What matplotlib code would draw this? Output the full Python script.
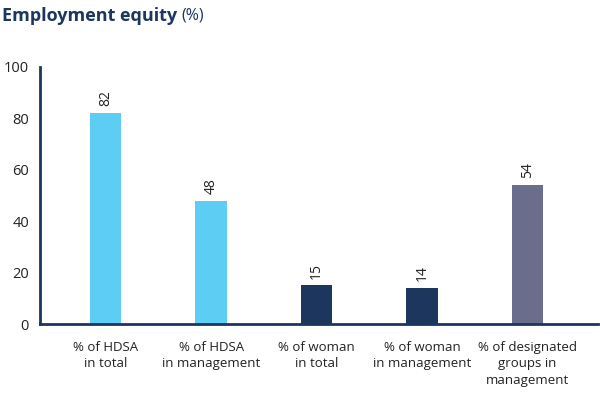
import matplotlib
matplotlib.use("Agg")
import matplotlib.pyplot as plt

# data
categories = [
    "% of HDSA\nin total",
    "% of HDSA\nin management",
    "% of woman\nin total",
    "% of woman\nin management",
    "% of designated\ngroups in\nmanagement",
]
values = [82, 48, 15, 14, 54]
colors = ["#5ECDF3", "#5ECDF3", "#1C365E", "#1C365E", "#6A6D8C"]

NAVY = "#1C365E"

plt.rcParams["font.family"] = ["Open Sans", "DejaVu Sans"]

fig = plt.figure(figsize=(6, 4), dpi=100)
ax = fig.add_axes([0.067, 0.19, 0.93, 0.6425])

x = list(range(len(values)))
ax.bar(x, values, width=0.3, color=colors)

# value labels, rotated above the bars
for xi, v in zip(x, values):
    ax.annotate(str(v), (xi, v), xytext=(0, 5), textcoords="offset points",
                rotation=90, ha="center", va="bottom", fontsize=10, color="#222222")

ax.set_xlim(-0.62, 4.67)
ax.set_ylim(0, 100)
ax.set_yticks([0, 20, 40, 60, 80, 100])
ax.set_xticks(x)
ax.set_xticklabels(categories, color="#222222", linespacing=1.35)
ax.tick_params(axis="both", length=0, labelsize=10.5, colors="#222222")
ax.tick_params(axis="x", pad=12, labelsize=9.5)
ax.tick_params(axis="y", pad=8)

for side in ["top", "right"]:
    ax.spines[side].set_visible(False)
for side in ["left", "bottom"]:
    ax.spines[side].set_color(NAVY)
    ax.spines[side].set_linewidth(2)

# title: bold part + regular "(%)" right after it
title = fig.text(0.003, 0.96, "Employment equity", fontsize=13, fontweight="bold",
                 color=NAVY, ha="left", va="center")
ax.annotate("(%)", xy=(1, 0.5), xycoords=title, xytext=(3, 0),
            textcoords="offset points", fontsize=11.5, color=NAVY,
            ha="left", va="center", annotation_clip=False)

fig.savefig("out.png", dpi=100)
